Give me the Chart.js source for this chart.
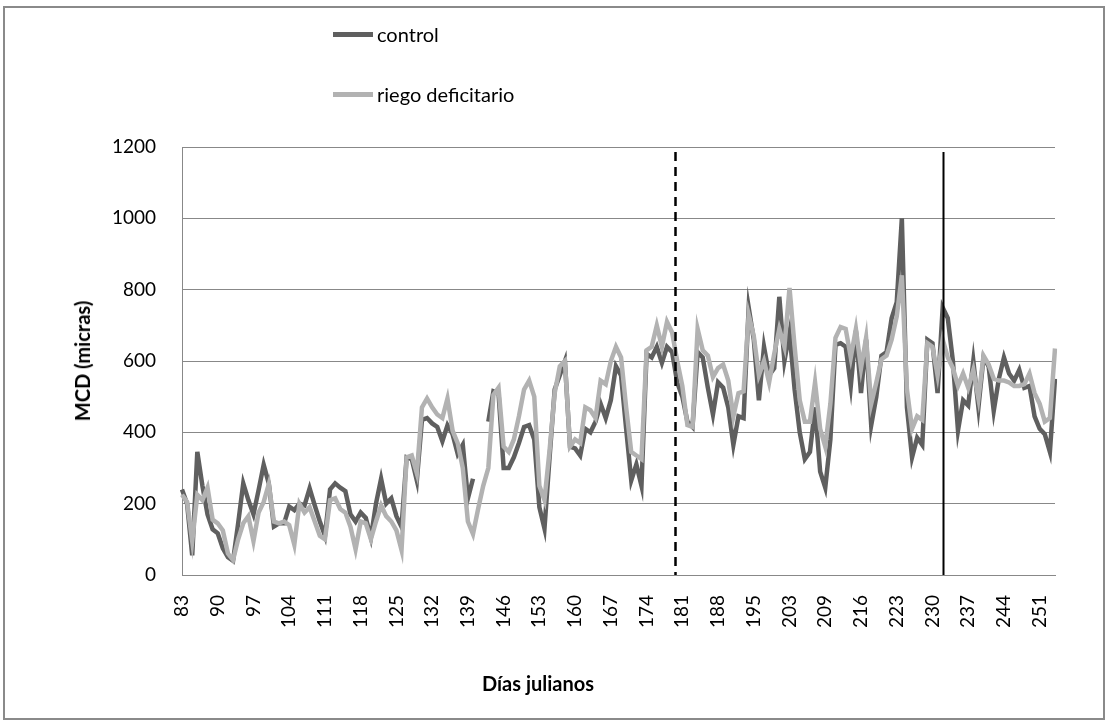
<!DOCTYPE html>
<html>
<head>
<meta charset="utf-8">
<title>MCD</title>
<script src="https://cdn.jsdelivr.net/npm/chart.js@4.4.0/dist/chart.umd.min.js"></script>
<style>
    html, body { margin: 0; padding: 0; background: #fff; }
    body { position: relative; width: 1108px; height: 725px; overflow: hidden; font-family: Lato, "Open Sans", sans-serif; color: #000; }
    #frame { position: absolute; left: 3px; top: 6px; width: 1098px; height: 710px; border: 2px solid #8a8a8a; }
    #mcdChart { position: absolute; left: 0; top: 0; }
    #legend { position: absolute; left: 333px; top: 22px; font-size: 20px; }
    #legend .item { position: absolute; left: 0; white-space: nowrap; height: 24px; line-height: 24px; }
    #legend .swatch { position: absolute; left: 0; top: 10px; width: 40px; height: 5px; }
    #legend .text { position: absolute; left: 44px; top: 0; }
    .axis-title { position: absolute; font-size: 20px; font-weight: bold; white-space: nowrap; }
    #yTitle { left: 82px; top: 361px; transform: translate(-50%, -50%) rotate(-90deg); }
    #xTitle { left: 538px; top: 683px; transform: translate(-50%, -50%); }
</style>
</head>
<body>
<div id="frame"></div>
<canvas id="mcdChart" width="1108" height="725"></canvas>
<div id="legend"></div>
<div class="axis-title" id="yTitle">MCD (micras)</div>
<div class="axis-title" id="xTitle">Días julianos</div>
<script>
// julian days (one reading is labelled 203 twice)
const days = [
    83, 84, 85, 86, 87, 88, 89, 90, 91, 92, 93, 94, 95, 96,
    97, 98, 99, 100, 101, 102, 103, 104, 105, 106, 107, 108, 109, 110,
    111, 112, 113, 114, 115, 116, 117, 118, 119, 120, 121, 122, 123, 124,
    125, 126, 127, 128, 129, 130, 131, 132, 133, 134, 135, 136, 137, 138,
    139, 140, 141, 142, 143, 144, 145, 146, 147, 148, 149, 150, 151, 152,
    153, 154, 155, 156, 157, 158, 159, 160, 161, 162, 163, 164, 165, 166,
    167, 168, 169, 170, 171, 172, 173, 174, 175, 176, 177, 178, 179, 180,
    181, 182, 183, 184, 185, 186, 187, 188, 189, 190, 191, 192, 193, 194,
    195, 196, 197, 198, 199, 200, 201, 203, 203, 204, 205, 206, 207, 208,
    209, 210, 211, 212, 213, 214, 215, 216, 217, 218, 219, 220, 221, 222,
    223, 224, 225, 226, 227, 228, 229, 230, 231, 232, 233, 234, 235, 236,
    237, 238, 239, 240, 241, 242, 243, 244, 245, 246, 247, 248, 249, 250,
    251, 252, 253, 254
];

// MCD, micras
const control = [
    240, 200, 55, 345, 250, 170, 128, 117, 75, 50, 40, 145, 257, 210,
    170, 238, 309, 257, 136, 145, 145, 192, 182, 200, 195, 243, 195, 150,
    110, 240, 257, 245, 235, 170, 150, 175, 160, 105, 200, 270, 200, 215,
    165, 135, 330, 325, 265, 435, 440, 425, 415, 375, 420, 395, 340, 365,
    215, 270, null, null, 430, 515, 510, 300, 300, 330, 370, 415, 420, 380,
    190, 130, 330, 520, 560, 600, 360, 355, 335, 410, 400, 430, 480, 440,
    490, 585, 560, 410, 265, 310, 250, 620, 610, 640, 595, 640, 625, 540,
    500, 430, 415, 625, 610, 525, 450, 540, 525, 470, 365, 445, 440, 750,
    660, 490, 640, 560, 580, 780, 600, 680, 520, 400, 325, 345, 470, 290,
    245, 380, 645, 650, 640, 530, 685, 510, 660, 420, 500, 615, 625, 720,
    765, 1000, 470, 330, 385, 365, 660, 650, 510, 750, 720, 600, 405, 490,
    475, 600, 470, 610, 585, 460, 550, 610, 565, 545, 575, 525, 530, 445,
    410, 395, 345, 550
];

const riegoDeficitario = [
    225, 205, 95, 225, 210, 245, 155, 145, 125, 60, 42, 100, 145, 165,
    95, 175, 205, 255, 150, 145, 150, 140, 85, 200, 175, 190, 150, 110,
    100, 210, 215, 185, 175, 135, 72, 150, 145, 100, 150, 195, 165, 150,
    125, 70, 330, 335, 285, 470, 495, 470, 450, 440, 495, 405, 370, 300,
    150, 115, 185, 250, 300, 505, 525, 360, 345, 380, 445, 520, 545, 500,
    250, 210, 350, 510, 585, 600, 360, 380, 370, 470, 462, 440, 545, 535,
    600, 640, 610, 470, 345, 335, 325, 630, 640, 700, 640, 710, 680, 600,
    530, 420, 415, 690, 630, 615, 555, 580, 590, 545, 445, 510, 515, 730,
    670, 560, 600, 540, 620, 690, 640, 805, 640, 490, 430, 430, 540, 410,
    360, 480, 665, 695, 690, 610, 690, 580, 665, 480, 540, 605, 615, 660,
    725, 840, 520, 410, 445, 435, 650, 640, 560, 660, 610, 580, 530, 565,
    525, 575, 495, 615, 590, 550, 545, 545, 540, 530, 530, 535, 565, 510,
    480, 430, 440, 635
];

const yTicks = [0, 200, 400, 600, 800, 1000, 1200];

// treatment phase limits, as positions on the day axis
const phaseLines = [
    { at: 96.5, dashed: true },
    { at: 149, dashed: false }
];

const tickFont = { family: 'Lato', size: 19 };
const gridColor = '#888888';

const phaseLinesPlugin = {
    id: 'phaseLines',
    afterDatasetsDraw: function (chart) {
        const ctx = chart.ctx;
        const area = chart.chartArea;
        const x = chart.scales.x;
        ctx.save();
        ctx.strokeStyle = '#000';
        phaseLines.forEach(function (p) {
            const px = Math.round(x.getPixelForValue(p.at)) + 0.5;
            ctx.lineWidth = p.dashed ? 2.5 : 2;
            ctx.setLineDash(p.dashed ? [9, 6] : []);
            ctx.beginPath();
            ctx.moveTo(px, area.top + 5);
            ctx.lineTo(px, area.bottom);
            ctx.stroke();
        });
        ctx.restore();
    }
};

const datasets = [
    {
        label: 'control',
        data: control,
        borderColor: '#5f5f5f',
        backgroundColor: '#5f5f5f',
        order: 2
    },
    {
        label: 'riego deficitario',
        data: riegoDeficitario,
        borderColor: '#b2b2b2',
        backgroundColor: '#b2b2b2',
        order: 1
    }
];

const chart = new Chart(document.getElementById('mcdChart'), {
    type: 'line',
    data: {
        labels: days,
        datasets: datasets.map(function (d) {
            return Object.assign({
                borderWidth: 4.5,
                pointRadius: 0,
                tension: 0,
                spanGaps: false,
                borderCapStyle: 'butt'
            }, d);
        })
    },
    options: {
        responsive: false,
        animation: false,
        events: [],
        layout: {
            padding: { left: 0, top: 147, right: 53, bottom: 0 }
        },
        plugins: {
            legend: { display: false },
            tooltip: { enabled: false }
        },
        scales: {
            x: {
                offset: false,
                grid: { display: false, drawTicks: false },
                border: { color: gridColor, width: 1 },
                ticks: {
                    autoSkip: false,
                    minRotation: 90,
                    maxRotation: 90,
                    padding: 20,
                    color: '#000',
                    font: tickFont,
                    callback: function (value, index) {
                        return index % 7 === 0 ? String(days[index]) : '';
                    }
                },
                afterFit: function (scale) { scale.height = 150; }
            },
            y: {
                min: yTicks[0],
                max: yTicks[yTicks.length - 1],
                grid: { color: gridColor, drawTicks: false },
                border: { color: gridColor, width: 1 },
                ticks: {
                    stepSize: yTicks[1] - yTicks[0],
                    padding: 26,
                    color: '#000',
                    font: tickFont,
                    callback: function (value) { return String(value); }
                },
                afterFit: function (scale) { scale.width = 182; }
            }
        }
    },
    plugins: [phaseLinesPlugin]
});

// two-row legend above the plot
const legend = document.getElementById('legend');
datasets.forEach(function (d, i) {
    const item = document.createElement('div');
    item.className = 'item';
    item.style.top = (i * 60) + 'px';
    item.innerHTML = '<span class="swatch" style="background:' + d.borderColor + '"></span>' +
        '<span class="text">' + d.label + '</span>';
    legend.appendChild(item);
});
</script>
</body>
</html>
